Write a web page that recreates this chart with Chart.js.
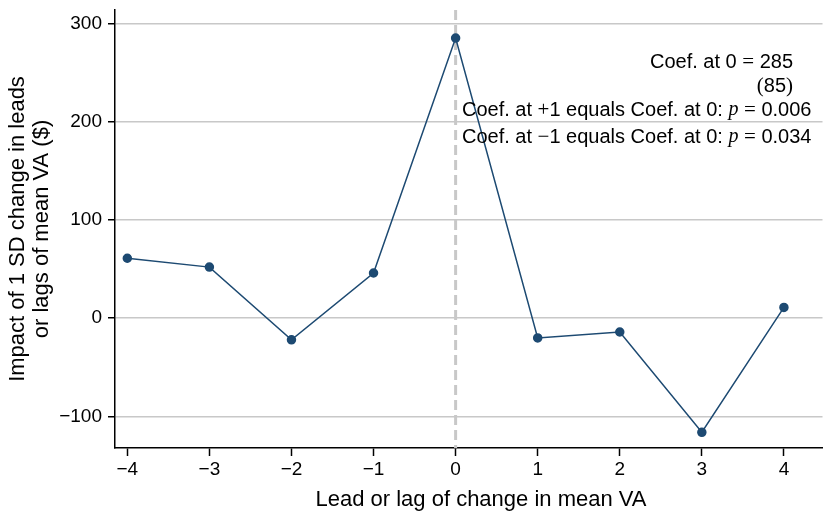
<!DOCTYPE html>
<html>
<head>
<meta charset="utf-8">
<script src="https://cdn.jsdelivr.net/npm/chart.js@4.4.1/dist/chart.umd.min.js"></script>
<style>
  html, body { margin: 0; padding: 0; background: #fff; }
  #wrap { width: 828px; height: 514px; position: relative; }
</style>
</head>
<body>
<div id="wrap"><canvas id="c"></canvas></div>
<script>
// lead/lag values
const leads = [-4, -3, -2, -1, 0, 1, 2, 3, 4];
const impact = [61, 52, -22, 46, 285, -20, -14, -116, 11];
const yTicks = [-100, 0, 100, 200, 300];
const xTicks = [-4, -3, -2, -1, 0, 1, 2, 3, 4];
const refLineAt = 0;
const xTitle = 'Lead or lag of change in mean VA';

const SANS = '"Liberation Sans", Arial, Helvetica, sans-serif';
const SERIF = '"Liberation Serif", "DejaVu Serif", serif';
const lineColor = '#1d4a72';

// annotation lines: [text, font] segments
const notes = [
  { align: 'right', x: 793, y: 62, segs: [['Coef. at 0 ', 'sans'], ['=', 'serif'], [' 285', 'sans']] },
  { align: 'right', x: 793, y: 86, segs: [['(', 'serif'], ['85', 'sans'], [')', 'serif']] },
  { align: 'left', x: 462, y: 110, segs: [['Coef. at ', 'sans'], ['+', 'serif'], ['1 equals Coef. at 0: ', 'sans'], ['p', 'ital'], [' ', 'sans'], ['=', 'serif'], [' 0.006', 'sans']] },
  { align: 'left', x: 462, y: 137, segs: [['Coef. at ', 'sans'], ['\u2212', 'serif'], ['1 equals Coef. at 0: ', 'sans'], ['p', 'ital'], [' ', 'sans'], ['=', 'serif'], [' 0.034', 'sans']] },
  { align: 'center', x: 481, y: 500, size: 22, segs: [[xTitle, 'sans']] }
];

function minus(v) {
  return v < 0 ? '\u2212' + Math.abs(v) : String(v);
}

const fontFor = (kind, size) => {
  size = size || 20;
  if (kind === 'serif') return (size + 1) + 'px ' + SERIF;
  if (kind === 'ital') return 'italic ' + size + 'px ' + SERIF;
  return size + 'px ' + SANS;
};

const refLine = {
  id: 'refLine',
  beforeDatasetsDraw(chart) {
    const { ctx, chartArea, scales } = chart;
    const px = scales.x.getPixelForValue(refLineAt);
    ctx.save();
    ctx.strokeStyle = '#c8c8c8';
    ctx.lineWidth = 3;
    ctx.setLineDash([10, 5]);
    ctx.beginPath();
    ctx.moveTo(px, chartArea.top);
    ctx.lineTo(px, chartArea.bottom);
    ctx.stroke();
    ctx.restore();
  }
};

const noteText = {
  id: 'noteText',
  afterDraw(chart) {
    const ctx = chart.ctx;
    ctx.save();
    ctx.fillStyle = '#000';
    ctx.textBaseline = 'middle';
    ctx.textAlign = 'left';
    notes.forEach(n => {
      let total = 0;
      n.segs.forEach(s => { ctx.font = fontFor(s[1], n.size); total += ctx.measureText(s[0]).width; });
      let x = n.x;
      if (n.align === 'right') x = n.x - total;
      if (n.align === 'center') x = n.x - total / 2;
      n.segs.forEach(s => {
        ctx.font = fontFor(s[1], n.size);
        ctx.fillText(s[0], x, n.y);
        x += ctx.measureText(s[0]).width;
      });
    });
    ctx.restore();
  }
};

new Chart(document.getElementById('c'), {
  type: 'line',
  data: {
    datasets: [{
      data: leads.map((l, i) => ({ x: l, y: impact[i] })),
      borderColor: lineColor,
      backgroundColor: lineColor,
      borderWidth: 1.5,
      pointRadius: 4,
      pointHoverRadius: 4,
      tension: 0
    }]
  },
  options: {
    responsive: true,
    maintainAspectRatio: false,
    animation: false,
    layout: { padding: { top: 10, right: 0, left: 0, bottom: 0 } },
    plugins: { legend: { display: false }, tooltip: { enabled: false } },
    scales: {
      x: {
        type: 'linear',
        min: -4.15,
        max: 4.47,
        afterBuildTicks: (s) => { s.ticks = xTicks.map(v => ({ value: v })); },
        afterFit: (s) => { s.height = 66; s.paddingLeft = 0; s.paddingRight = 0; },
        grid: { drawOnChartArea: false, tickLength: 8, tickColor: '#000', tickWidth: 1.5 },
        border: { color: '#000', width: 1.5 },
        ticks: { color: '#000', font: { family: SANS, size: 19 }, padding: 2, callback: minus, maxRotation: 0 },
        title: { display: false }
      },
      y: {
        min: -132,
        max: 313.5,
        afterBuildTicks: (s) => { s.ticks = yTicks.map(v => ({ value: v })); },
        afterFit: (s) => { s.width = 115; s.paddingTop = 0; s.paddingBottom = 0; },
        grid: { color: '#c8c8c8', lineWidth: 1.5, tickLength: 7, tickColor: '#000', tickWidth: 1.5 },
        border: { color: '#000', width: 1.5 },
        ticks: { color: '#000', font: { family: SANS, size: 19 }, padding: 6, callback: minus },
        title: { display: true, text: ['Impact of 1 SD change in leads', 'or lags of mean VA ($)'], color: '#000', font: { family: SANS, size: 22, lineHeight: 1.1 }, padding: { top: 6, bottom: 4 } }
      }
    }
  },
  plugins: [refLine, noteText]
});
</script>
</body>
</html>
